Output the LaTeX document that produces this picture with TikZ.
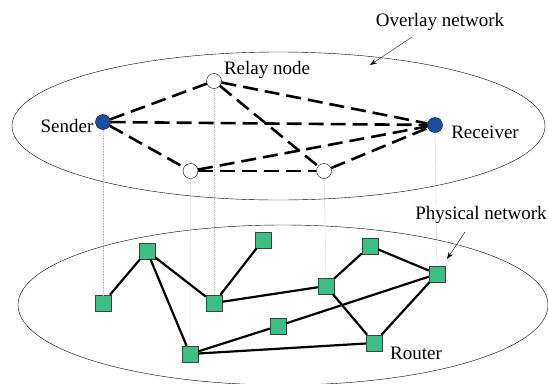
\documentclass[tikz,border=0pt]{standalone}
\usepackage{fontspec}
\setmainfont{Liberation Serif}
\usetikzlibrary{positioning, arrows.meta}
\definecolor{hostblue}{RGB}{28,77,161}
\definecolor{routergreen}{RGB}{61,190,133}
\tikzset{host/.style={circle, draw, thin, fill=hostblue, minimum width=14pt, minimum height=15pt, inner sep=0pt},
         relay/.style={circle, draw, thin, fill=white, minimum width=14pt, minimum height=15pt, inner sep=0pt},
         router/.style={rectangle, draw=black!75, fill=routergreen, minimum size=16pt, inner sep=0pt},
         vlink/.style={line width=2.6pt, dash pattern=on 15pt off 7pt},
         plink/.style={line width=2.2pt},
         proj/.style={gray!55, densely dotted, line width=0.6pt},
         lbl/.style={font=\fontsize{19}{22}\selectfont, inner sep=0pt},
        }

\begin{document}
\begin{tikzpicture}[x=1pt, y=-1pt]
        \useasboundingbox (0,0) rectangle (548,383);

        % the two planes
        \draw[thin] (278.5,126) ellipse [x radius=266.5, y radius=74];
        \draw[thin] (283,305) ellipse [x radius=265, y radius=80];

        % overlay
        \node[host](snd)at(103,122){};
        \node[host](rcv)at(435,125){};
        \node[relay](ra)at(214,81){};
        \node[relay](rb)at(190.5,171){};
        \node[relay](rc)at(324,171){};

        % physical
        \node[router](r1)at(103,303){};
        \node[router](r2)at(147,251){};
        \node[router](r3)at(214,303){};
        \node[router](r4)at(263,240){};
        \node[router](r5)at(326,286){};
        \node[router](r6)at(370,246){};
        \node[router](r7)at(437,274){};
        \node[router](r8)at(278,326){};
        \node[router](r9)at(190,354){};
        \node[router](r10)at(374,343){};

        \draw[proj](snd)--(r1);
        \draw[proj](ra)--(r3);
        \draw[proj](rb)--(r9);
        \draw[proj](rc)--(r5);
        \draw[proj](rcv)--(r7);

        \draw[vlink](snd)--(ra);
        \draw[vlink](snd)--(rcv);
        \draw[vlink](snd)--(rb);
        \draw[vlink](ra)--(rcv);
        \draw[vlink](ra)--(rc);
        \draw[vlink](rb)--(rc);
        \draw[vlink](rb)--(rcv);
        \draw[vlink](rc)--(rcv);

        \draw[plink](r1)--(r2);
        \draw[plink](r2)--(r3);
        \draw[plink](r2)--(r9);
        \draw[plink](r3)--(r4);
        \draw[plink](r3)--(r5);
        \draw[plink](r5)--(r6);
        \draw[plink](r6)--(r7);
        \draw[plink](r5)--(r10);
        \draw[plink](r7)--(r10);
        \draw[plink](r7)--(r8);
        \draw[plink](r8)--(r9);
        \draw[plink](r9)--(r10);

        % labels
        \node[lbl](sndlbl)at(67,126){Sender};
        \node[lbl](rcvlbl)at(485,132){Receiver};
        \node[lbl](ralbl)at(267,70){Relay node};
        \node[lbl](rtlbl)at(416,353){Router};
        \node[lbl](ovlbl)at(440,22){Overlay network};
        \node[lbl](phlbl)at(481,215){Physical network};

        \coordinate(ovtail)at(412,37);
        \coordinate(ovhead)at(370,65);
        \coordinate(phtail)at(465,232);
        \coordinate(phhead)at(447,259);
        \draw[-{Stealth[length=7pt,width=5pt]}, thin](ovtail)--(ovhead);
        \draw[-{Stealth[length=7pt,width=5pt]}, thin](phtail)--(phhead);
    \end{tikzpicture}
\end{document}
